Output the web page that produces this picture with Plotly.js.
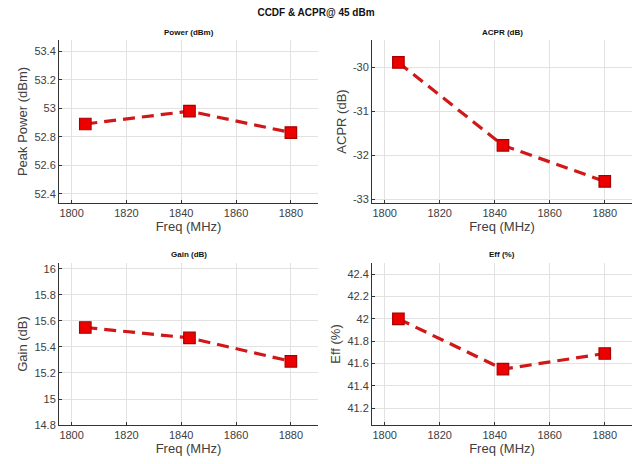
<!DOCTYPE html>
<html>
<head>
<meta charset="utf-8">
<script src="https://cdn.plot.ly/plotly-3.0.1.min.js"></script>
<style>html,body{margin:0;padding:0;background:#fff;}#chart{width:633px;height:464px;}</style>
</head>
<body>
<div id="chart"></div>
<script>
const freq = [1805, 1843, 1880];
const peakPower = [52.89, 52.98, 52.83];
const acpr = [-29.89, -31.77, -32.59];
const gain = [15.55, 15.47, 15.29];
const eff = [42.0, 41.55, 41.69];
const freqTicks = [1800, 1820, 1840, 1860, 1880];
const acprTickVals = [-30, -31, -32, -33];
const acprTickText = ['-30', '-31', '-32', '-33'];
const mainTitle = 'CCDF &amp; ACPR@ 45 dBm';
const panelTitles = ['Power (dBm)', 'ACPR (dB)', 'Gain (dB)', 'Eff (%)'];
const yTitles = ['Peak Power (dBm)', 'ACPR (dB)', 'Gain (dB)', 'Eff (%)'];
const xTitle = 'Freq (MHz)';

const lineStyle = {color: '#d01818', width: 3.2, dash: '12px,7px'};
const markerStyle = {symbol: 'square', size: 11.5, color: '#ee0000', line: {color: '#a80000', width: 1.2}};

function tr(y, xa, ya) {
  return {x: freq, y: y, xaxis: xa, yaxis: ya, type: 'scatter', mode: 'lines+markers',
          line: lineStyle, marker: markerStyle, showlegend: false};
}
const data = [
  tr(peakPower, 'x', 'y'),
  tr(acpr, 'x2', 'y2'),
  tr(gain, 'x3', 'y3'),
  tr(eff, 'x4', 'y4')
];

const font = {family: 'Liberation Sans, Arial, sans-serif', size: 11, color: '#404040'};
const titleFont = {family: font.family, size: 13, color: '#404040'};
function xax(domain, anchor) {
  return {domain: domain, anchor: anchor, range: [1795.4, 1889.9], tickvals: freqTicks,
          showline: true, linecolor: '#333', linewidth: 1, mirror: false, ticks: 'inside', ticklen: 3, tickcolor: '#333',
          showgrid: true, gridcolor: '#e2e2e2', zeroline: false, tickfont: font,
          title: {text: xTitle, font: titleFont, standoff: 2}};
}
function yax(domain, anchor, range, dtick, title) {
  return {domain: domain, anchor: anchor, range: range, dtick: dtick,
          showline: true, linecolor: '#333', linewidth: 1, mirror: false, ticks: 'inside', ticklen: 3, tickcolor: '#333',
          showgrid: true, gridcolor: '#e2e2e2', zeroline: false, tickfont: font,
          title: {text: title, font: titleFont, standoff: 3}};
}
const xL = [59/633, 318/633], xR = [372/633, 632/633];
const yT = [1 - 203/464, 1 - 40/464], yB = [1 - 425/464, 1 - 263/464];

const y2 = yax(yT, 'x2', [-33.08, -29.38], 1, yTitles[1]);
y2.tickvals = acprTickVals; y2.ticktext = acprTickText;

const layout = {
  width: 633, height: 464, margin: {l: 0, r: 0, t: 0, b: 0},
  paper_bgcolor: '#fff', plot_bgcolor: '#fff',
  font: font,
  title: {text: mainTitle, font: {family: font.family, size: 10, color: '#111', weight: 'bold'},
          x: 316/633, xanchor: 'center', y: 1 - 12/464, yanchor: 'middle'},
  xaxis: xax(xL, 'y'),
  yaxis: yax(yT, 'x', [52.335, 53.48], 0.2, yTitles[0]),
  xaxis2: xax(xR, 'y2'),
  yaxis2: y2,
  xaxis3: xax(xL, 'y3'),
  yaxis3: yax(yB, 'x3', [14.8, 16.046], 0.2, yTitles[2]),
  xaxis4: xax(xR, 'y4'),
  yaxis4: yax(yB, 'x4', [41.05, 42.5], 0.2, yTitles[3]),
  annotations: [
    {text: panelTitles[0], x: (59+318)/2/633, y: 1 - 33/464},
    {text: panelTitles[1], x: (372+632)/2/633, y: 1 - 33/464},
    {text: panelTitles[2], x: (59+318)/2/633, y: 1 - 255/464},
    {text: panelTitles[3], x: (372+632)/2/633, y: 1 - 255/464}
  ].map(a => Object.assign(a, {xref: 'paper', yref: 'paper', showarrow: false, xanchor: 'center', yanchor: 'middle',
          font: {family: font.family, size: 8, color: '#111', weight: 'bold'}}))
};

Plotly.newPlot('chart', data, layout, {displayModeBar: false, staticPlot: true});
</script>
</body>
</html>
